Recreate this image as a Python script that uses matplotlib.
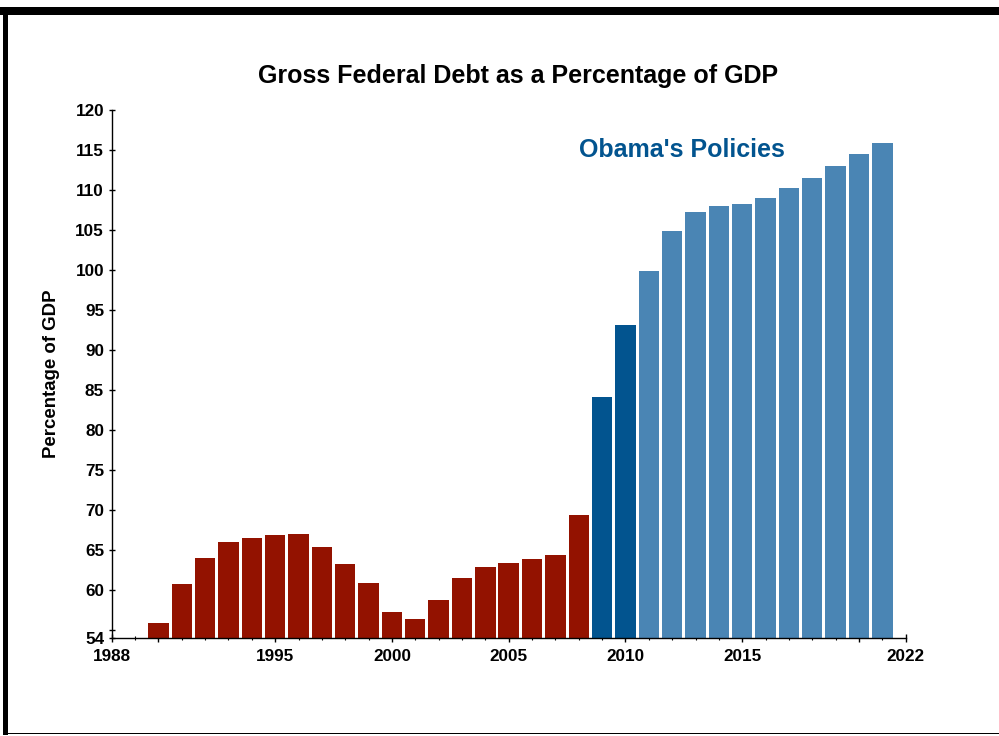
import matplotlib
matplotlib.use("Agg")
import matplotlib.pyplot as plt
from matplotlib.patches import Rectangle
from matplotlib.ticker import FixedLocator, MultipleLocator

plt.rcParams['font.family'] = ['Liberation Sans', 'DejaVu Sans']

years = list(range(1990, 2022))
debt = [55.9, 60.7, 64.0, 66.0, 66.5, 66.9, 67.0, 65.4, 63.2, 60.9,
        57.3, 56.4, 58.8, 61.5, 62.9, 63.4, 63.9, 64.4, 69.4, 84.1,
        93.1, 99.9, 104.9, 107.25, 108.0, 108.25, 109.0, 110.3, 111.5, 113.0,
        114.5, 115.9]
groups = ['pre'] * 19 + ['obama_actual'] * 2 + ['obama_proj'] * 11
group_colors = {'pre': '#931200', 'obama_actual': '#02548F', 'obama_proj': '#4A85B4'}

x_tick_pos = [1988, 1990, 1995, 2000, 2005, 2010, 2015, 2020, 2022]
x_tick_labels = ['1988', '', '1995', '2000', '2005', '2010', '2015', '', '2022']
y_tick_pos = [54, 55, 60, 65, 70, 75, 80, 85, 90, 95, 100, 105, 110, 115, 120]
y_tick_labels = ['54', ''] + [str(v) for v in range(60, 121, 5)]

title = 'Gross Federal Debt as a Percentage of GDP'
ylabel = 'Percentage of GDP'
annotation = "Obama's Policies"

W, H = 999, 736
fig = plt.figure(figsize=(W / 100, H / 100), dpi=100)
ax = fig.add_axes([111.7 / W, 1 - 638 / H, (905.7 - 111.7) / W, (638 - 110.3) / H])

ax.bar(years, [d - 54 for d in debt], bottom=54, width=0.874,
       color=[group_colors[g] for g in groups], linewidth=0, zorder=2)

ax.set_xlim(1988, 2022)
ax.set_ylim(54, 120)
for s in ['top', 'right']:
    ax.spines[s].set_visible(False)
for s in ['left', 'bottom']:
    ax.spines[s].set_linewidth(1.0)
    ax.spines[s].set_zorder(3)

ax.xaxis.set_major_locator(FixedLocator(x_tick_pos))
ax.set_xticklabels(x_tick_labels)
ax.xaxis.set_minor_locator(MultipleLocator(1))
ax.yaxis.set_major_locator(FixedLocator(y_tick_pos))
ax.set_yticklabels(y_tick_labels)

ax.tick_params(axis='x', which='major', direction='inout', length=6, width=1, pad=5)
ax.tick_params(axis='x', which='minor', direction='inout', length=3.5, width=0.8)
ax.tick_params(axis='y', which='major', direction='inout', length=5, width=1, pad=3)
for lab in ax.get_xticklabels() + ax.get_yticklabels():
    lab.set_fontweight('bold')
    lab.set_fontsize(12.3)

ax.set_ylabel(ylabel, fontsize=13.4, fontweight='bold', labelpad=11)
fig.text(518 / W, 1 - 76 / H, title, fontsize=18, fontweight='bold',
         ha='center', va='center')
ax.text(2012.4, 115.0, annotation, fontsize=18, fontweight='bold',
        color='#02548F', ha='center', va='center')

# frame
fig.add_artist(Rectangle((0, 1 - 15 / H), 1, 8 / H, transform=fig.transFigure,
                         color='black', linewidth=0))
fig.add_artist(Rectangle((3 / W, 1 / H), 5 / W, 1 - 15 / H, transform=fig.transFigure,
                         color='black', linewidth=0))
fig.add_artist(Rectangle((3 / W, 2 / H), 1 - 3 / W, 1.2 / H, transform=fig.transFigure,
                         color='black', linewidth=0))

fig.savefig('out.png', dpi=100)
